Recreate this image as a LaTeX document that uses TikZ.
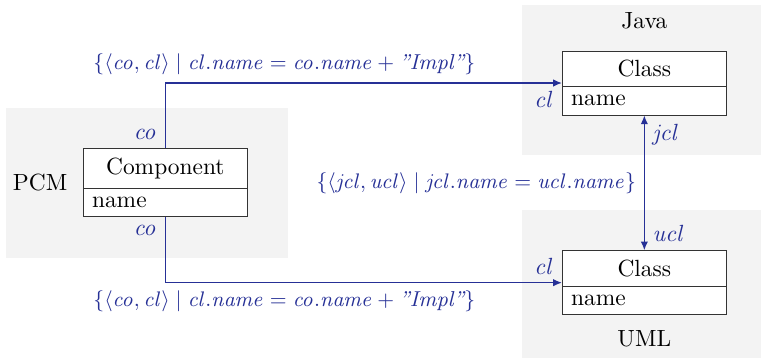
\documentclass[tikz,border=0pt]{standalone}
\usepackage{amsmath}
\usepackage{tikz}
\usetikzlibrary{positioning,arrows.meta,fit}

\definecolor{relblue}{RGB}{38,48,150}
\definecolor{regiongray}{RGB}{243,243,243}

\begin{document}
\begin{tikzpicture}[
    node distance=0.1cm and 0.1cm,
    clshead/.style={draw=black!80, fill=white, outer sep=0pt, minimum width=2.46cm,
        minimum height=0.535cm, inner sep=0pt},
    clsattr/.style={draw=black!80, fill=white, outer sep=0pt, text width=2.2cm,
        inner xsep=0.13cm, inner ysep=0pt, minimum height=0.425cm, align=left},
    region/.style={fill=regiongray},
    lbl/.style={text=relblue},
    formula/.style={text=relblue, font=\fontsize{9.2}{11}\selectfont},
    rel/.style={draw=relblue, line width=0.5pt, -{Latex[length=1.3mm, width=1.1mm]}},
    bothrel/.style={draw=relblue, line width=0.5pt,
        {Latex[length=1.3mm, width=1.1mm]}-{Latex[length=1.3mm, width=1.1mm]}}
]
\useasboundingbox (0,0) rectangle (11.415,-5.37);

% ---- Regions ----
\fill[region] (0.09,-1.62) rectangle (4.32,-3.87);
\fill[region] (7.83,-0.075) rectangle (11.415,-2.33);
\fill[region] (7.83,-3.15) rectangle (11.415,-5.37);

% ---- PCM ----
\node[clshead, minimum height=0.6cm, anchor=north] (comphead) at (2.48,-2.225) {Component};
\node[clsattr, below=0pt of comphead] (compattr) {name};
\node[fit=(comphead)(compattr), inner sep=0pt] (comp) {};
\node[left=0.11cm of comp] (pcm) {PCM};

% ---- Java ----
\node[clshead, anchor=north] (jhead) at (9.665,-0.765) {Class};
\node[clsattr, below=0pt of jhead] (jattr) {name};
\node[fit=(jhead)(jattr), inner sep=0pt] (jcls) {};
\node[above=0.2cm of jcls] (java) {Java};

% ---- UML ----
\node[clshead, anchor=north] (uhead) at (9.665,-3.76) {Class};
\node[clsattr, below=0pt of uhead] (uattr) {name};
\node[fit=(uhead)(uattr), inner sep=0pt] (ucls) {};
\node[below=0.1cm of ucls] (uml) {UML};

% Component to Java class
\draw[rel] (comp.north) node[lbl, above left] {$\mathit{co}$}
    |- node[formula, pos=0.65, above]
    {$\{\langle \mathit{co}, \mathit{cl}\rangle \mid \mathit{cl.name} = \mathit{co.name} + \textit{''Impl''}\}$}
    (jcls.west) node[lbl, below left] {$\mathit{cl}$};

% Component to UML class
\draw[rel] (comp.south) node[lbl, below left] {$\mathit{co}$}
    |- node[formula, pos=0.65, below]
    {$\{\langle \mathit{co}, \mathit{cl}\rangle \mid \mathit{cl.name} = \mathit{co.name} + \textit{''Impl''}\}$}
    (ucls.west) node[lbl, above left] {$\mathit{cl}$};

% Java class to UML class
\draw[bothrel] (jcls.south) node[lbl, below right] {$\mathit{jcl}$}
    -- node[formula, left]
    {$\{\langle \mathit{jcl}, \mathit{ucl}\rangle \mid \mathit{jcl.name} = \mathit{ucl.name}\}$}
    (ucls.north) node[lbl, above right] {$\mathit{ucl}$};
\end{tikzpicture}
\end{document}
